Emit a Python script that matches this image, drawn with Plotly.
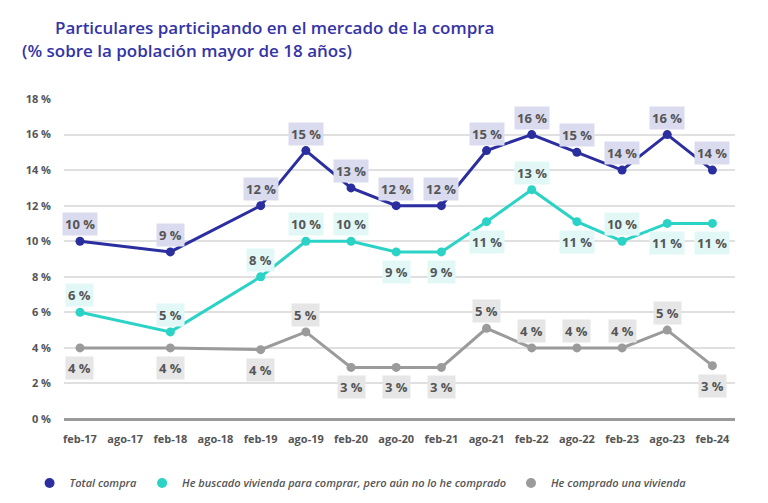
import plotly.graph_objects as go

periods = ["feb-17", "ago-17", "feb-18", "ago-18", "feb-19", "ago-19", "feb-20",
           "ago-20", "feb-21", "ago-21", "feb-22", "ago-22", "feb-23", "ago-23", "feb-24"]
total = [10.0, None, 9.4, None, 12.0, 15.1, 13.0, 12.0, 12.0, 15.1, 16.0, 15.0, 14.0, 16.0, 14.0]
buscado = [6.0, None, 4.9, None, 8.0, 10.0, 10.0, 9.4, 9.4, 11.1, 12.9, 11.1, 10.0, 11.0, 11.0]
comprado = [4.0, None, 4.0, None, 3.9, 4.9, 2.9, 2.9, 2.9, 5.1, 4.0, 4.0, 4.0, 5.0, 3.0]
y_ticks = [0, 2, 4, 6, 8, 10, 12, 14, 16, 18]
y_ticktext = [f"{v} %" for v in y_ticks]

names = ["Total compra",
         "He buscado vivienda para comprar, pero aún no lo he comprado",
         "He comprado una vivienda"]

# label side per point: 1 above, -1 below
side_total = [1] * 15
side_buscado = [1, 1, 1, 1, 1, 1, 1, -1, -1, -1, 1, -1, 1, -1, -1]
side_comprado = [-1, -1, -1, -1, -1, 1, -1, -1, -1, 1, 1, 1, 1, 1, -1]

colors = ["#2b2e9e", "#2ad3c5", "#9b9b9b"]
label_bg = ["#dadbef", "#e2f8f7", "#e6e6e6"]
txt = "#555555"
font = "Open Sans"

fig = go.Figure()
series = [total, buscado, comprado]
sides = [side_total, side_buscado, side_comprado]

for vals, name, col in zip(series, names, colors):
    fig.add_trace(go.Scatter(x=periods, y=vals, mode="lines+markers", name=name,
                             connectgaps=True, showlegend=False,
                             line=dict(color=col, width=3),
                             marker=dict(color=col, size=9)))
# legend entries (marker only)
for name, col in zip(names, colors):
    fig.add_trace(go.Scatter(x=[None], y=[None], mode="markers", name=name,
                             marker=dict(color=col, size=10)))

for vals, sd, bg in zip(series, sides, label_bg):
    for p, v, s in zip(periods, vals, sd):
        if v is None:
            continue
        fig.add_annotation(x=p, y=v, text=f"<b>{round(v)} %</b>", showarrow=False,
                           yshift=17 if s > 0 else -20, bgcolor=bg, borderpad=2,
                           font=dict(family=font, size=13, color=txt))

title_font = dict(family=font, size=17, color="#3434a6", weight=600)
fig.add_annotation(xref="paper", yref="paper", x=-0.0164, y=1.222, xanchor="left",
                   yanchor="middle", showarrow=False,
                   text="Particulares participando en el mercado de la compra",
                   font=title_font)
fig.add_annotation(xref="paper", yref="paper", x=-0.0656, y=1.153, xanchor="left",
                   yanchor="middle", showarrow=False,
                   text="(% sobre la población mayor de 18 años)",
                   font=title_font)

fig.update_xaxes(type="category", categoryorder="array", categoryarray=periods,
                 range=[-0.354, 14.5], showgrid=False, showline=False, zeroline=False,
                 ticklabelstandoff=12, automargin=False,
                 tickfont=dict(family=font, size=11, color=txt, weight="bold"))
fig.update_yaxes(range=[0, 18], tickmode="array", tickvals=y_ticks, ticktext=y_ticktext,
                 showgrid=True, gridcolor="#e0e0e0", gridwidth=1.5,
                 zeroline=True, zerolinecolor="#9a9a9a", zerolinewidth=2.5,
                 ticklabelstandoff=12, automargin=False,
                 tickfont=dict(family=font, size=11, color=txt, weight="bold"))

# margins offset by the page's 8px body margin
fig.update_layout(width=768, height=503, plot_bgcolor="white", paper_bgcolor="white",
                  margin=dict(l=56, r=41, t=91, b=92, autoexpand=False),
                  legend=dict(orientation="h", x=-0.0513, xanchor="left", y=-0.2,
                              yanchor="middle",
                              font=dict(family=font, size=11, color=txt,
                                        style="italic", weight=600)))

fig.write_html("out.html")
